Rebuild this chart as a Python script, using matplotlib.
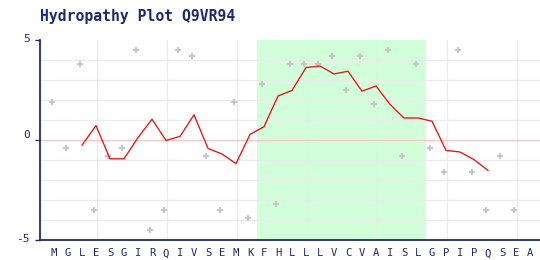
import matplotlib
matplotlib.use("Agg")
import matplotlib.pyplot as plt
import matplotlib.transforms as mtransforms

# ---- data ----
residues = list("MGLESGIRQIVSEMKFHLLLVCVAISLGPIPQSEA")
residue_scores = [1.9, -0.4, 3.8, -3.5, -0.8, -0.4, 4.5, -4.5, -3.5, 4.5,
                  4.2, -0.8, -3.5, 1.9, -3.9, 2.8, -3.2, 3.8, 3.8, 3.8,
                  4.2, 2.5, 4.2, 1.8, 4.5, -0.8, 3.8, -0.4, -1.6, 4.5,
                  -1.6, -3.5, -0.8, -3.5]
window_start = 3
window_values = [-0.26, 0.72, -0.94, -0.94, 0.12, 1.04, -0.02, 0.18, 1.26, -0.42,
                 -0.70, -1.18, 0.28, 0.66, 2.20, 2.48, 3.62, 3.70, 3.30, 3.44,
                 2.44, 2.70, 1.78, 1.10, 1.10, 0.94, -0.52, -0.60, -0.98, -1.52]
region_start = 16
region_end = 27
y_ticks = [5, 0, -5]
title = "Hydropathy Plot Q9VR94"

navy = "#1c2b6e"

fig = plt.figure(figsize=(5.4, 2.6), dpi=100)
ax = fig.add_axes([40 / 540, 20 / 260, 500 / 540, 200 / 260])
ax.set_xlim(0, 500 / 14)
ax.set_ylim(-5, 5)

# highlighted region
ax.axvspan(region_start - 0.5, region_end + 0.55, color="#d0ffd9", lw=0, zorder=0)

# grid
for y in range(-4, 5):
    if y != 0:
        ax.axhline(y, color="#ebebeb", lw=0.9, zorder=1)
for x in range(4, 36, 5):
    ax.axvline(x + 0.05, color="#ebebeb", lw=0.9, zorder=1)
ax.axhline(0, color="#ffc4c4", lw=0.9, zorder=1)

# points
px = [i + 1 - 0.12 for i in range(len(residue_scores))]
ax.plot(px, residue_scores, linestyle="none", marker="P", markersize=3.8,
        color="#c6c6c6", markeredgewidth=0, zorder=2)

# window line
lx = [window_start + i for i in range(len(window_values))]
ax.plot(lx, window_values, color="#ee1111", lw=0.95, zorder=3)

# spines
for s in ("top", "right"):
    ax.spines[s].set_visible(False)
for s in ("left", "bottom"):
    ax.spines[s].set_color(navy)
    ax.spines[s].set_linewidth(1.3)

ax.set_xticks(range(1, len(residues) + 1))
ax.set_xticklabels(residues, family="DejaVu Sans Mono", fontsize=7.6, color=navy)
ax.tick_params(axis="x", length=0, pad=6)

ax.set_yticks(y_ticks)
ax.set_yticklabels([str(v) for v in y_ticks],
                   family="DejaVu Sans Mono", fontsize=8, color=navy)
ax.tick_params(axis="y", length=3.5, width=1, color=navy, pad=4)
for tick, lab, v in zip(ax.yaxis.get_major_ticks(), ax.get_yticklabels(), y_ticks):
    up = 6 if v == 0 else 2
    lab.set_transform(lab.get_transform() +
                      mtransforms.ScaledTranslation(0, up / 100, fig.dpi_scale_trans))
    if v == 0:
        tick.tick1line.set_color("#ffc4c4")
        tick.tick1line.set_markeredgewidth(0.9)

fig.text(40 / 540, 1 - 17 / 260, title, family="DejaVu Sans Mono", fontweight="bold",
         fontsize=10.6, color=navy, va="center", ha="left")

fig.savefig("out.png", dpi=100, facecolor="white")
